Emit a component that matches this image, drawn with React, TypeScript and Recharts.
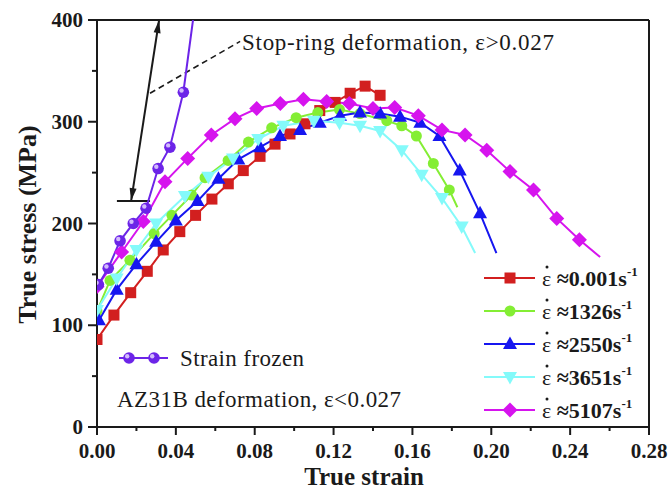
import React from 'react';
import { LineChart, Line, XAxis, YAxis, ReferenceLine } from 'recharts';

const W = 670;
const H = 492;
const FONT = '"Liberation Serif", "Times New Roman", serif';
const INK = '#1a1a1a';

// strain rate 0.001 s^-1
const STRAIN_A = [0, 0.0086, 0.0171, 0.0255, 0.0336, 0.042, 0.05, 0.0583, 0.0666, 0.0742, 0.0827, 0.0903, 0.0979, 0.1055, 0.113, 0.1208, 0.1284, 0.136, 0.1436];
const STRESS_A = [86, 110, 132, 153, 174, 192, 208, 224, 239, 252, 266, 278, 288, 298, 311, 319, 328, 335, 326];

// 1326 s^-1
const STRAIN_B = [0, 0.0066, 0.0167, 0.029, 0.038, 0.048, 0.0548, 0.0665, 0.0768, 0.0886, 0.101, 0.112, 0.123, 0.1334, 0.147, 0.1546, 0.162, 0.1706, 0.1787, 0.1828];
const STRESS_B = [114, 144, 164, 190, 208, 228, 245, 262, 280, 294, 304, 309, 312, 308, 301, 296, 286, 259, 233, 216];

// 2550 s^-1
const STRAIN_C = [0.001, 0.01, 0.02, 0.03, 0.04, 0.051, 0.0616, 0.0717, 0.0827, 0.0928, 0.103, 0.113, 0.1233, 0.1334, 0.1436, 0.1537, 0.164, 0.1737, 0.184, 0.1943, 0.2026];
const STRESS_C = [105, 135, 160, 182, 203, 222, 244, 263, 275, 286, 292, 299, 306, 309, 308, 305, 299, 286, 252, 210, 171];

// 3651 s^-1
const STRAIN_D = [0, 0.01, 0.02, 0.03, 0.0446, 0.0565, 0.069, 0.0818, 0.0945, 0.11, 0.123, 0.1334, 0.1436, 0.1546, 0.1647, 0.175, 0.185, 0.1918];
const STRESS_D = [115, 146, 174, 200, 227, 246, 264, 283, 296, 301, 299, 296, 291, 272, 248, 225, 197, 171];

// 5107 s^-1
const STRAIN_E = [0, 0.0125, 0.0235, 0.0345, 0.046, 0.058, 0.07, 0.081, 0.093, 0.1047, 0.1165, 0.128, 0.14, 0.151, 0.163, 0.175, 0.1867, 0.1977, 0.2095, 0.2214, 0.2332, 0.2447, 0.2552];
const STRESS_E = [138, 172, 202, 241, 264, 287, 303, 313, 318, 322, 320, 318, 313, 314, 306, 292, 287, 272, 251, 233, 205, 184, 167];

// strain frozen
const STRAIN_F = [0.0007, 0.0057, 0.0117, 0.0184, 0.0249, 0.031, 0.037, 0.0438, 0.0487];
const STRESS_F = [140, 156, 183, 200, 215, 254, 275, 329, 400];

const RATE_LABELS = ['0.001', '1326', '2550', '3651', '5107'];
const X_TICKS = [0, 0.02, 0.04, 0.06, 0.08, 0.1, 0.12, 0.14, 0.16, 0.18, 0.2, 0.22, 0.24, 0.26, 0.28];
const Y_TICKS = [0, 50, 100, 150, 200, 250, 300, 350, 400];

// annotation anchors (data coords)
const ARROW = [{ x: 0.0173, y: 222 }, { x: 0.0315, y: 400 }];
const STOP_BAR = [{ x: 0.0101, y: 222 }, { x: 0.0269, y: 222 }];
const DASH = [{ x: 0.0269, y: 328 }, { x: 0.0726, y: 379 }];

const toRows = (xs: number[], ys: number[]) => xs.map((x, i) => ({ x, y: ys[i] }));

const drawMarker = (kind: string, cx: number, cy: number, color: string) => {
  switch (kind) {
    case 'square':
      return <rect x={cx - 5.5} y={cy - 5.5} width={11} height={11} fill={color} />;
    case 'circle':
      return <circle cx={cx} cy={cy} r={5.5} fill={color} />;
    case 'up':
      return <polygon points={`${cx},${cy - 7.5} ${cx + 7},${cy + 5} ${cx - 7},${cy + 5}`} fill={color} />;
    case 'down':
      return <polygon points={`${cx},${cy + 7.5} ${cx + 7},${cy - 5} ${cx - 7},${cy - 5}`} fill={color} />;
    case 'diamond':
      return <polygon points={`${cx},${cy - 7.5} ${cx + 7.5},${cy} ${cx},${cy + 7.5} ${cx - 7.5},${cy}`} fill={color} />;
    case 'sphere':
      return (
        <g>
          <circle cx={cx} cy={cy} r={5.8} fill={color} />
          <circle cx={cx - 1.8} cy={cy - 1.8} r={2.2} fill="#e4d6ff" opacity={0.85} />
        </g>
      );
    default:
      return null;
  }
};

const SERIES = [
  { key: 'a', xs: STRAIN_A, ys: STRESS_A, color: '#d21f1f', marker: 'square', tail: false },
  { key: 'b', xs: STRAIN_B, ys: STRESS_B, color: '#84ee34', marker: 'circle', tail: true },
  { key: 'c', xs: STRAIN_C, ys: STRESS_C, color: '#1616f0', marker: 'up', tail: true },
  { key: 'd', xs: STRAIN_D, ys: STRESS_D, color: '#84fafa', marker: 'down', tail: true },
  { key: 'e', xs: STRAIN_E, ys: STRESS_E, color: '#d614ee', marker: 'diamond', tail: true },
  { key: 'f', xs: STRAIN_F, ys: STRESS_F, color: '#6c24e8', marker: 'sphere', tail: true },
];

const YTick = (props: any) => {
  const { x, y, payload } = props;
  const major = payload.value % 100 === 0;
  return (
    <g>
      <line x1={x} x2={x - (major ? 9 : 5)} y1={y} y2={y} stroke={INK} strokeWidth={2} />
      {major && (
        <text x={x - 14} y={y + 7} textAnchor="end" fontFamily={FONT} fontWeight="bold" fontSize={21} fill={INK}>
          {payload.value}
        </text>
      )}
    </g>
  );
};

const XTick = (props: any) => {
  const { x, y, payload } = props;
  const major = Math.round(payload.value * 100) % 4 === 0;
  return (
    <g>
      <line x1={x} x2={x} y1={y} y2={y + (major ? 8 : 4)} stroke={INK} strokeWidth={2} />
      {major && (
        <text x={x} y={y + 31} textAnchor="middle" fontFamily={FONT} fontWeight="bold" fontSize={21} fill={INK}>
          {payload.value.toFixed(2)}
        </text>
      )}
    </g>
  );
};

const DoubleArrow = (p: any) => {
  const { x1, y1, x2, y2 } = p;
  const dx = x2 - x1;
  const dy = y2 - y1;
  const len = Math.sqrt(dx * dx + dy * dy);
  const ux = dx / len;
  const uy = dy / len;
  const head = (tx: number, ty: number, sx: number, sy: number) => {
    const bx = tx - sx * 13;
    const by = ty - sy * 13;
    return `${tx},${ty} ${bx - sy * 3.5},${by + sx * 3.5} ${bx + sy * 3.5},${by - sx * 3.5}`;
  };
  return (
    <g>
      <line x1={x1} y1={y1} x2={x2} y2={y2} stroke={INK} strokeWidth={2} />
      <polygon points={head(x2, y2, ux, uy)} fill={INK} />
      <polygon points={head(x1, y1, -ux, -uy)} fill={INK} />
    </g>
  );
};

export default function App() {
  return (
    <div style={{ position: 'absolute', left: 0, top: 0, width: W, height: H, background: '#fff' }}>
      <LineChart width={W} height={H} margin={{ top: 20, right: 21, bottom: 0, left: 0 }}>
        <XAxis
          dataKey="x"
          type="number"
          domain={[0, 0.28]}
          ticks={X_TICKS}
          interval={0}
          height={65}
          tickSize={0}
          tickMargin={0}
          tick={<XTick />}
          axisLine={{ stroke: INK, strokeWidth: 2 }}
          tickLine={false}
          allowDataOverflow
          label={{
            content: (lp: any) => {
              const vb = lp.viewBox;
              return (
                <text x={vb.x + vb.width / 2 - 9} y={vb.y + 58} textAnchor="middle" fontFamily={FONT} fontWeight="bold" fontSize={25} fill={INK}>
                  True strain
                </text>
              );
            },
          }}
        />
        <YAxis
          type="number"
          domain={[0, 400]}
          ticks={Y_TICKS}
          interval={0}
          width={97}
          tickSize={0}
          tickMargin={0}
          tick={<YTick />}
          axisLine={{ stroke: INK, strokeWidth: 2 }}
          tickLine={false}
          allowDataOverflow
          label={{
            content: (lp: any) => {
              const vb = lp.viewBox;
              const cx = vb.x + 27;
              const cy = vb.y + vb.height / 2 + 1;
              return (
                <text x={cx} y={cy} transform={`rotate(-90 ${cx} ${cy})`} textAnchor="middle" dominantBaseline="central" fontFamily={FONT} fontWeight="bold" fontSize={26} fill={INK}>
                  True stress (MPa)
                </text>
              );
            },
          }}
        />
        <ReferenceLine y={400} stroke={INK} strokeWidth={2} />
        <ReferenceLine x={0.28} stroke={INK} strokeWidth={2} />
        <ReferenceLine segment={ARROW} shape={DoubleArrow} />
        <ReferenceLine segment={STOP_BAR} stroke={INK} strokeWidth={2} />
        <ReferenceLine segment={DASH} stroke={INK} strokeWidth={1.6} strokeDasharray="6 4" />
        {SERIES.map((s) => {
          const rows = toRows(s.xs, s.ys);
          const last = rows.length - 1;
          return (
            <Line
              key={s.key}
              data={rows}
              dataKey="y"
              type="linear"
              stroke={s.color}
              strokeWidth={2}
              isAnimationActive={false}
              activeDot={false}
              dot={(dp: any) => (
                <g key={`${s.key}-${dp.index}`}>
                  {s.tail && dp.index === last ? null : drawMarker(s.marker, dp.cx, dp.cy, s.color)}
                </g>
              )}
            />
          );
        })}
      </LineChart>
      <svg width={W} height={H} style={{ position: 'absolute', left: 0, top: 0, pointerEvents: 'none' }}>
        <text x={242} y={50} fontFamily={FONT} fontSize={23} fill={INK} textLength={312} lengthAdjust="spacing">
          Stop-ring deformation, ε&gt;0.027
        </text>
        <line x1={119} x2={168} y1={358} y2={358} stroke="#6c24e8" strokeWidth={2} />
        {drawMarker('sphere', 129, 358, '#6c24e8')}
        {drawMarker('sphere', 154, 358, '#6c24e8')}
        <text x={180} y={366} fontFamily={FONT} fontSize={23} fill={INK} textLength={124} lengthAdjust="spacing">
          Strain frozen
        </text>
        <text x={117} y={407} fontFamily={FONT} fontSize={23} fill={INK} textLength={284} lengthAdjust="spacing">
          AZ31B deformation, ε&lt;0.027
        </text>
        {SERIES.slice(0, 5).map((s, i) => {
          const cy = 278 + i * 33;
          return (
            <g key={s.key}>
              <line x1={484} x2={535} y1={cy} y2={cy} stroke={s.color} strokeWidth={2} />
              {drawMarker(s.marker, 510, cy, s.color)}
              <circle cx={547} cy={cy - 11} r={1.5} fill={INK} />
              <text x={542} y={cy + 8} fontFamily={FONT} fontSize={22} fill={INK}>
                <tspan>ε</tspan>
                <tspan fontWeight="bold"> ≈{RATE_LABELS[i]}s</tspan>
                <tspan dy={-10} fontSize={13} fontWeight="bold">-1</tspan>
              </text>
            </g>
          );
        })}
      </svg>
    </div>
  );
}
